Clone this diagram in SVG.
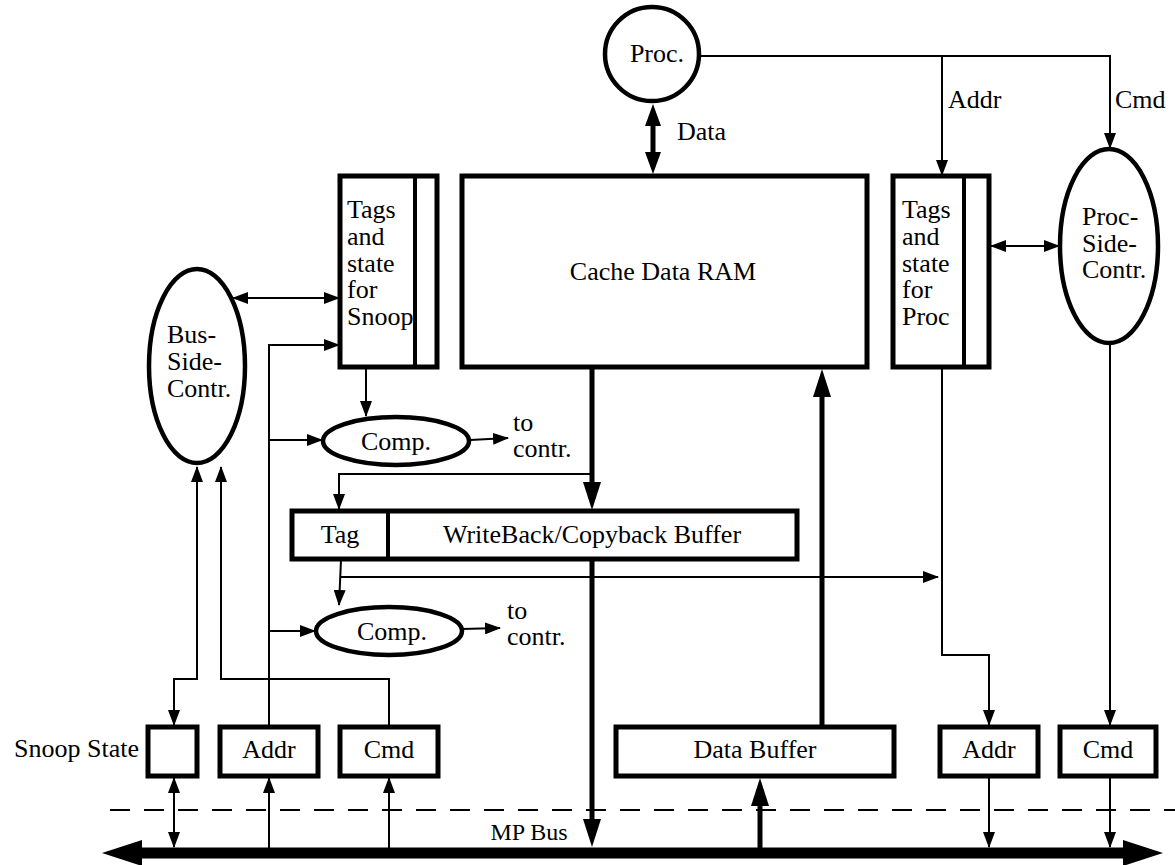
<svg xmlns="http://www.w3.org/2000/svg" width="1175" height="865" viewBox="0 0 1175 865">
<style>
text{font-family:"Liberation Serif","Times New Roman",serif;font-size:26px;fill:#000}
.box{fill:#fff;stroke:#000;stroke-width:5}
.div{stroke:#000;stroke-width:4;fill:none}
.ell{fill:#fff;stroke:#000;stroke-width:4.5}
.thin{fill:none;stroke:#000;stroke-width:2}
.thick{fill:none;stroke:#000;stroke-width:5}
.m{text-anchor:middle}
</style>
<defs>
<marker id="a" markerUnits="userSpaceOnUse" markerWidth="16" markerHeight="12" refX="15" refY="6" orient="auto-start-reverse"><path d="M0,0 L16,6 L0,12 z" fill="#000"/></marker>
<marker id="A" markerUnits="userSpaceOnUse" markerWidth="28" markerHeight="18" refX="14" refY="9" orient="auto-start-reverse"><path d="M0,0 L28,9 L0,18 z" fill="#000"/></marker>
<marker id="D" markerUnits="userSpaceOnUse" markerWidth="22" markerHeight="16" refX="11" refY="8" orient="auto-start-reverse"><path d="M0,0 L22,8 L0,16 z" fill="#000"/></marker>
<marker id="B" markerUnits="userSpaceOnUse" markerWidth="40" markerHeight="26" refX="2" refY="13" orient="auto-start-reverse"><path d="M0,0 L40,13 L0,26 z" fill="#000"/></marker>
</defs>

<g id="connectors">
<line x1="110" y1="810" x2="1175" y2="810" stroke="#000" stroke-width="2" stroke-dasharray="20,14"/>
<line x1="140" y1="853" x2="1125" y2="853" stroke="#000" stroke-width="11" marker-start="url(#B)" marker-end="url(#B)"/>
<polyline class="thin" points="700,56 1110,56 1110,148" marker-end="url(#a)"/>
<line class="thin" x1="942" y1="56" x2="942" y2="175" marker-end="url(#a)"/>
<line class="thick" x1="653" y1="115" x2="653" y2="163" marker-start="url(#D)" marker-end="url(#D)"/>
<line class="thin" x1="991" y1="246" x2="1059" y2="246" marker-start="url(#a)" marker-end="url(#a)"/>
<line class="thin" x1="233" y1="298" x2="339" y2="298" marker-start="url(#a)" marker-end="url(#a)"/>
<polyline class="thin" points="269,726 269,345 339,345" marker-end="url(#a)"/>
<line class="thin" x1="269" y1="440" x2="322" y2="440" marker-end="url(#a)"/>
<line class="thin" x1="269" y1="631" x2="315" y2="631" marker-end="url(#a)"/>
<line class="thin" x1="269" y1="848" x2="269" y2="778" marker-end="url(#a)"/>
<line class="thin" x1="366" y1="369" x2="366" y2="416" marker-end="url(#a)"/>
<line class="thin" x1="470" y1="440" x2="508" y2="438" marker-end="url(#a)"/>
<line class="thin" x1="462" y1="629" x2="500" y2="628" marker-end="url(#a)"/>
<line class="thick" x1="592" y1="367" x2="592" y2="496" marker-end="url(#A)"/>
<polyline class="thin" points="592,474 339,474 339,509" marker-end="url(#a)"/>
<line x1="592" y1="512" x2="592" y2="519" stroke="#000" stroke-width="1.5"/>
<line x1="592" y1="550" x2="592" y2="558" stroke="#000" stroke-width="1.5"/>
<line class="thick" x1="592" y1="560" x2="592" y2="833" marker-end="url(#A)"/>
<line class="thin" x1="341" y1="560" x2="339" y2="605" marker-end="url(#a)"/>
<line class="thin" x1="341" y1="577" x2="938" y2="577" marker-end="url(#a)"/>
<polyline class="thin" points="174,725 174,679 197,679 197,467" marker-start="url(#a)" marker-end="url(#a)"/>
<polyline class="thin" points="389,726 389,679 221,679 221,467" marker-end="url(#a)"/>
<line class="thin" x1="174" y1="778" x2="174" y2="847" marker-start="url(#a)" marker-end="url(#a)"/>
<line class="thin" x1="389" y1="848" x2="389" y2="778" marker-end="url(#a)"/>
<line class="thick" x1="760" y1="848" x2="760" y2="792" marker-end="url(#A)"/>
<line class="thick" x1="822" y1="726" x2="822" y2="383" marker-end="url(#A)"/>
<polyline class="thin" points="942,367 942,655 989,655 989,725" marker-end="url(#a)"/>
<line class="thin" x1="989" y1="778" x2="989" y2="847" marker-end="url(#a)"/>
<line class="thin" x1="1110" y1="343" x2="1110" y2="725" marker-end="url(#a)"/>
<line class="thin" x1="1110" y1="778" x2="1110" y2="847" marker-end="url(#a)"/>
</g>

<g id="proc">
<circle class="ell" cx="652" cy="54" r="47"/>
<text class="m" x="657" y="62">Proc.</text>
</g>
<g id="labels">
<text x="677" y="140">Data</text>
<text x="948" y="108">Addr</text>
<text x="1115" y="108">Cmd</text>
<text x="513" y="431">to</text>
<text x="513" y="457">contr.</text>
<text x="507" y="619">to</text>
<text x="507" y="645">contr.</text>
<text x="529" y="840" class="m" style="font-size:24px">MP Bus</text>
<text x="139" y="757" style="text-anchor:end">Snoop State</text>
</g>

<g id="cache-ram">
<rect class="box" x="462" y="176" width="405" height="191"/>
<text class="m" x="663" y="280">Cache Data RAM</text>
</g>

<g id="tags-snoop">
<rect class="box" x="340" y="176" width="97" height="191"/>
<line class="div" x1="415" y1="176" x2="415" y2="367"/>
<text x="347" y="218">Tags</text>
<text x="347" y="245">and</text>
<text x="347" y="272">state</text>
<text x="347" y="298">for</text>
<text x="347" y="325">Snoop</text>
</g>

<g id="tags-proc">
<rect class="box" x="893" y="176" width="96" height="191"/>
<line class="div" x1="964" y1="176" x2="964" y2="367"/>
<text x="902" y="218">Tags</text>
<text x="902" y="245">and</text>
<text x="902" y="272">state</text>
<text x="902" y="298">for</text>
<text x="902" y="325">Proc</text>
</g>

<g id="proc-side-contr">
<ellipse class="ell" cx="1109" cy="246" rx="49" ry="97"/>
<text x="1082" y="225">Proc-</text>
<text x="1082" y="252">Side-</text>
<text x="1082" y="278">Contr.</text>
</g>

<g id="bus-side-contr">
<ellipse class="ell" cx="197" cy="366" rx="48" ry="97"/>
<text x="167" y="343">Bus-</text>
<text x="167" y="370">Side-</text>
<text x="167" y="397">Contr.</text>
</g>

<g id="comp1">
<ellipse class="ell" cx="396" cy="441" rx="73" ry="24"/>
<text class="m" x="396" y="450">Comp.</text>
</g>

<g id="comp2">
<ellipse class="ell" cx="389" cy="631" rx="73" ry="24"/>
<text class="m" x="392" y="640">Comp.</text>
</g>

<g id="wb-buffer">
<rect class="box" x="292" y="511" width="505" height="48"/>
<line class="div" x1="388" y1="511" x2="388" y2="559"/>
<text class="m" x="340" y="543">Tag</text>
<text class="m" x="592" y="543">WriteBack/Copyback Buffer</text>
</g>

<g id="snoop-state"><rect class="box" x="148" y="727" width="49" height="49"/></g>
<g id="addr-left"><rect class="box" x="220" y="727" width="98" height="49"/><text class="m" x="269" y="758">Addr</text></g>
<g id="cmd-left"><rect class="box" x="340" y="727" width="98" height="49"/><text class="m" x="389" y="758">Cmd</text></g>
<g id="data-buffer"><rect class="box" x="616" y="727" width="278" height="49"/><text class="m" x="755" y="758">Data Buffer</text></g>
<g id="addr-right"><rect class="box" x="940" y="727" width="98" height="49"/><text class="m" x="989" y="758">Addr</text></g>
<g id="cmd-right"><rect class="box" x="1060" y="727" width="96" height="49"/><text class="m" x="1108" y="758">Cmd</text></g>
</svg>
